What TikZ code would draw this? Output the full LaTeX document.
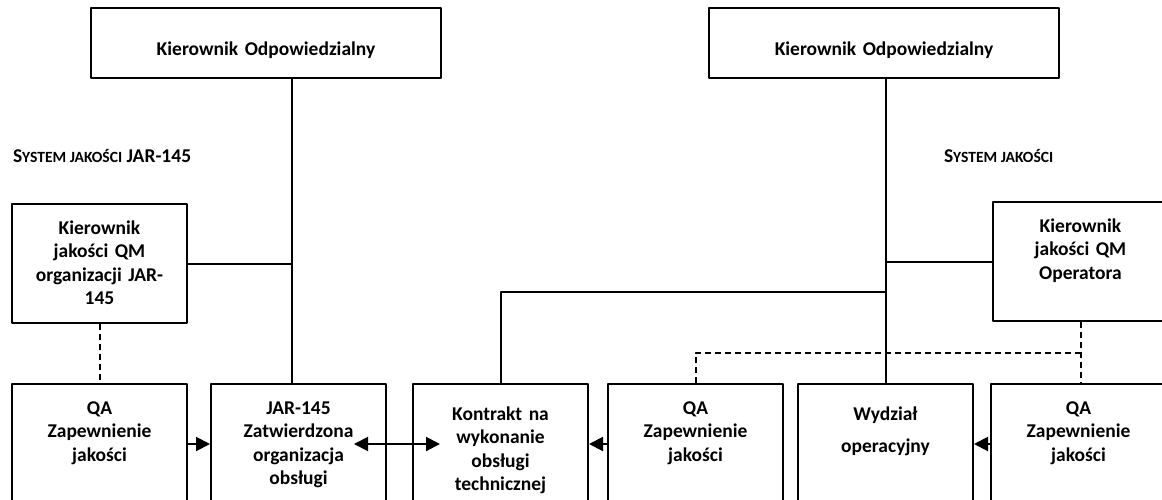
\documentclass[tikz,border=0pt]{standalone}
\usepackage{fontspec}
\setmainfont{Carlito}
\usetikzlibrary{calc,arrows.meta}
\newcommand\kap[1]{{\fontsize{15.6}{18}\selectfont #1}}
\tikzset{
  box/.style={draw,line width=2pt,inner sep=0pt,align=center,anchor=north west,
    font=\bfseries\fontsize{19.5}{23.5}\selectfont},
  topbox/.style={box,text width=350pt,text height=47pt,text depth=23pt},
  midbox/.style={box,text width=175pt,text height=30pt,text depth=89pt},
  unit/.style={box,text width=175pt,text height=30pt,text depth=90pt},
  lowunit/.style={unit,text height=36pt,text depth=84pt},
  sysnote/.style={anchor=west,inner sep=0pt,font=\bfseries\fontsize{19.5}{23.5}\selectfont},
  arr/.style={-{Triangle[length=14pt,width=14pt]}},
  darr/.style={{Triangle[length=14pt,width=14pt]}-{Triangle[length=14pt,width=14pt]}},
  przerywana/.style={dash pattern=on 6pt off 4pt}
}
\begin{document}
\begin{tikzpicture}[x=1pt,y=-1pt,line width=2pt,line join=round]
    \useasboundingbox (0,0) rectangle (1162,499);
    \clip (0,0) rectangle (1162,499);
    \coordinate (spineL) at (292,0);
    \coordinate (spineR) at (886,0);
    \coordinate (knee)   at (886,292);
    % gora
    \node[topbox] (kierL) at (90,7)  {Kierownik Odpowiedzialny};
    \node[topbox] (kierR) at (708,7) {Kierownik Odpowiedzialny};
    \node[sysnote] (sysL) at (12,156)  {S\kap{YSTEM JAKOŚCI} JAR-145};
    \node[sysnote] (sysR) at (943,156) {S\kap{YSTEM JAKOŚCI}};
    % kierownicy jakosci
    \node[midbox] (qmL) at (11,203)  {Kierownik\\jakości QM\\organizacji JAR-\\145};
    \node[midbox] (qmR) at (992,201) {Kierownik\\jakości QM\\Operatora};
    % dol
    \node[unit]    (qaL)      at (11,383)  {QA\\Zapewnienie\\jakości};
    \node[unit]    (jar)      at (210,383) {JAR-145\\Zatwierdzona\\organizacja\\obsługi};
    \node[lowunit] (kontrakt) at (412,383) {Kontrakt na\\wykonanie\\obsługi\\technicznej};
    \node[unit]    (qaM)      at (607,383) {QA\\Zapewnienie\\jakości};
    \node[lowunit] (wydzial)  at (797,383) {Wydział\\[8.5pt]operacyjny};
    \node[unit]    (qaR)      at (990,383) {QA\\Zapewnienie\\jakości};
    % linie
    \draw (kierL.south -| spineL) -- (jar.north -| spineL);
    \draw (qmL.east) -- (qmL.east -| spineL);
    \draw (kierR.south -| spineR) -- (wydzial.north -| spineR);
    \draw (qmR.west) -- (qmR.west -| spineR);
    \draw (kontrakt.north) |- (knee);
    \draw[przerywana] (qmL.south) -- (qaL.north);
    \draw[przerywana] (qmR.south) -- (qmR.south |- qaR.north);
    \draw[przerywana] (qaM.north) |- ($(qmR.south)!.5!(qmR.south |- qaR.north)$);
    % strzalki
    \draw[arr]  (qaL.east) -- (jar.west);
    \draw[darr] ([xshift=-33pt]jar.east) -- ([xshift=28pt]kontrakt.west);
    \draw[arr]  (qaM.west) -- (kontrakt.east);
    \draw[arr]  (qaR.west) -- (wydzial.east);
\end{tikzpicture}
\end{document}
